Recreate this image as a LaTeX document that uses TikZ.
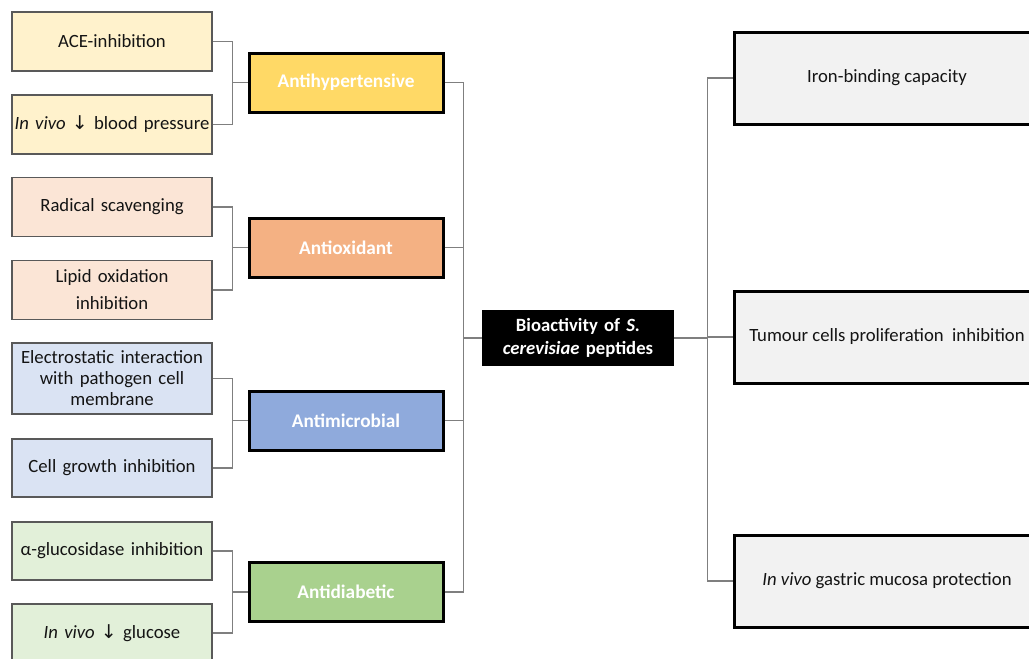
\documentclass[tikz,border=0pt]{standalone}
\usepackage{fontspec}
\setmainfont{Carlito}
\newfontfamily\symfont{DejaVu Sans}
\definecolor{yelD}{HTML}{FFD966}
\definecolor{yelL}{HTML}{FFF2CC}
\definecolor{orD}{HTML}{F4B183}
\definecolor{orL}{HTML}{FBE5D6}
\definecolor{blD}{HTML}{8FAADC}
\definecolor{blL}{HTML}{DAE3F3}
\definecolor{grD}{HTML}{A9D18E}
\definecolor{grL}{HTML}{E2F0D9}
\definecolor{rgt}{HTML}{F2F2F2}
\definecolor{conn}{HTML}{7F7F7F}
\definecolor{txt}{HTML}{141414}
\newcommand{\dn}{{\symfont\fontsize{19}{19}\selectfont ↓}}
\tikzset{
  leaf/.style={draw=black!65, line width=1.1pt, minimum width=200pt, minimum height=59pt,
    inner sep=2pt, text width=196pt, align=center, text=txt,
    font=\fontsize{18.7}{21}\selectfont},
  cat/.style={draw=black, line width=3pt, minimum width=194pt, minimum height=59pt,
    inner sep=0pt, text=white, font=\bfseries\fontsize{19.3}{21}\selectfont},
  hub/.style={fill=black, minimum width=192pt, minimum height=56pt, inner sep=0pt,
    text width=188pt, align=center, text=white, font=\bfseries\fontsize{18.7}{23}\selectfont},
  outc/.style={draw=black, line width=3pt, fill=rgt, minimum width=306pt, minimum height=92pt,
    inner sep=0pt, text=txt, font=\fontsize{18.7}{21}\selectfont},
  link/.style={draw=conn, line width=1.2pt}
}
\begin{document}
\begin{tikzpicture}[x=1pt,y=-1pt]
\useasboundingbox (0,0) rectangle (1029,659);
\clip (0,0) rectangle (1029,659);
% left leaves
\node[leaf, fill=yelL] (b1) at (112,41.5) {ACE-inhibition};
\node[leaf, fill=yelL] (b2) at (112,124.5) {\textit{In vivo} \dn{} blood pressure};
\node[leaf, fill=orL] (b3) at (112,207) {Radical scavenging};
\node[leaf, fill=orL] (b4) at (112,290) {Lipid oxidation\\[6pt]inhibition};
\node[leaf, fill=blL, minimum height=71pt] (b5) at (112,378.5) {Electrostatic interaction\\with pathogen cell\\membrane};
\node[leaf, fill=blL, minimum height=58pt] (b6) at (112,468) {Cell growth inhibition};
\node[leaf, fill=grL, minimum height=58pt] (b7) at (112,551) {α-glucosidase inhibition};
\node[leaf, fill=grL, minimum height=58pt] (b8) at (112,633) {\textit{In vivo} \dn{} glucose};
% categories
\node[cat, fill=yelD] (m1) at (346,82.5) {Antihypertensive};
\node[cat, fill=orD] (m2) at (346,247.5) {Antioxidant};
\node[cat, fill=blD] (m3) at (346,420.5) {Antimicrobial};
\node[cat, fill=grD] (m4) at (346,592) {Antidiabetic};
% hub
\node[hub] (c) at (578,338) {Bioactivity of \textit{S.}\\\textit{cerevisiae} peptides};
% outcomes
\node[outc] (r1) at (887,78) {Iron-binding capacity};
\node[outc] (r2) at (887,337) {Tumour cells proliferation\ \ inhibition};
\node[outc] (r3) at (887,581) {\textit{In vivo} gastric mucosa protection};
% connectors
\foreach \a/\m in {b1/m1,b2/m1,b3/m2,b4/m2,b5/m3,b6/m3,b7/m4,b8/m4}
  \draw[link] (\a.east) -- ++(20,0) |- (\m.west);
\foreach \m in {m1,m2,m3,m4}
  \draw[link] (\m.east) -- ++(19,0) |- (c.west);
\foreach \r in {r1,r2,r3}
  \draw[link] (c.east) -- ++(33,0) |- (\r.west);
\end{tikzpicture}
\end{document}
